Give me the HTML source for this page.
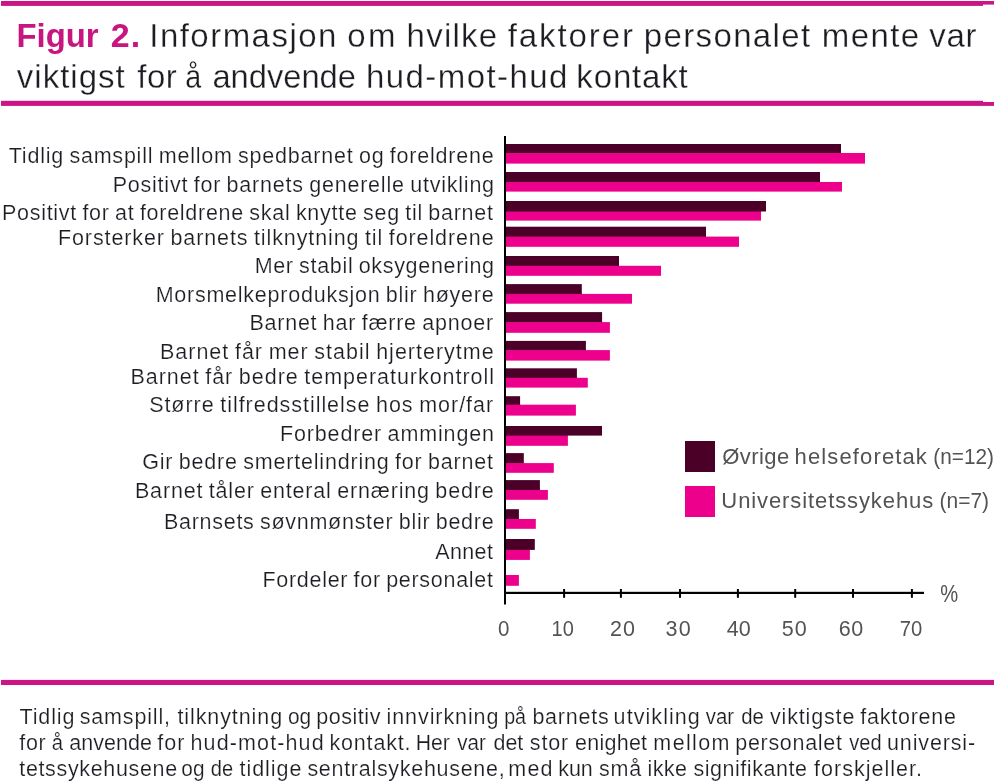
<!DOCTYPE html>
<html lang="no">
<head>
<meta charset="utf-8">
<title>Figur 2</title>
<style>
html,body{margin:0;padding:0;background:#fff;}
body{width:994px;height:782px;overflow:hidden;}
svg{display:block;font-family:"Liberation Sans",sans-serif;}
text{white-space:pre;stroke:#fff;paint-order:fill stroke;}
.title{stroke-width:0.3px;}
.lab{stroke-width:0.2px;}
.cap{stroke-width:0.2px;}
.leg{stroke-width:0.0px;}
.ax{stroke-width:0.0px;}
.b{stroke-width:0;}
.lab{word-spacing:-1.3px;}
</style>
</head>
<body>
<svg width="994" height="782" viewBox="0 0 994 782" role="img" aria-label="Figur 2">
<rect x="0" y="0" width="994" height="782" fill="#ffffff"/>
<rect x="1.0" y="1.0" width="982.0" height="4.9" fill="#cb1585"/>
<rect x="983.0" y="1.0" width="11.0" height="3.6" fill="#cb1585"/>
<rect x="1.0" y="100.8" width="982.0" height="5.1" fill="#cb1585"/>
<rect x="983.0" y="102.0" width="11.0" height="3.9" fill="#cb1585"/>
<rect x="1.0" y="679.9" width="993.0" height="5.1" fill="#cb1585"/>
<g id="bars">
<rect x="506.0" y="153.0" width="359.0" height="10.6" fill="#ec008c"/>
<rect x="506.0" y="152.0" width="335.0" height="1.5" fill="#ec008c"/>
<rect x="506.0" y="144.0" width="335.0" height="9.0" fill="#4a0027"/>
<rect x="506.0" y="182.0" width="336.0" height="9.6" fill="#ec008c"/>
<rect x="506.0" y="181.0" width="314.0" height="1.5" fill="#ec008c"/>
<rect x="506.0" y="172.0" width="314.0" height="10.0" fill="#4a0027"/>
<rect x="506.0" y="211.0" width="255.0" height="9.6" fill="#ec008c"/>
<rect x="506.0" y="201.0" width="260.0" height="10.5" fill="#4a0027"/>
<rect x="506.0" y="236.6" width="233.0" height="10.2" fill="#ec008c"/>
<rect x="506.0" y="235.6" width="200.0" height="1.5" fill="#ec008c"/>
<rect x="506.0" y="226.7" width="200.0" height="9.9" fill="#4a0027"/>
<rect x="506.0" y="265.8" width="155.0" height="10.0" fill="#ec008c"/>
<rect x="506.0" y="264.8" width="113.0" height="1.5" fill="#ec008c"/>
<rect x="506.0" y="256.0" width="113.0" height="9.8" fill="#4a0027"/>
<rect x="506.0" y="293.9" width="126.0" height="9.8" fill="#ec008c"/>
<rect x="506.0" y="292.9" width="75.8" height="1.5" fill="#ec008c"/>
<rect x="506.0" y="284.1" width="75.8" height="9.8" fill="#4a0027"/>
<rect x="506.0" y="322.1" width="103.9" height="10.7" fill="#ec008c"/>
<rect x="506.0" y="321.1" width="96.1" height="1.5" fill="#ec008c"/>
<rect x="506.0" y="312.1" width="96.1" height="10.0" fill="#4a0027"/>
<rect x="506.0" y="350.1" width="103.9" height="10.5" fill="#ec008c"/>
<rect x="506.0" y="349.1" width="79.9" height="1.5" fill="#ec008c"/>
<rect x="506.0" y="340.9" width="79.9" height="9.2" fill="#4a0027"/>
<rect x="506.0" y="377.8" width="81.8" height="9.8" fill="#ec008c"/>
<rect x="506.0" y="376.8" width="70.9" height="1.5" fill="#ec008c"/>
<rect x="506.0" y="368.3" width="70.9" height="9.5" fill="#4a0027"/>
<rect x="506.0" y="404.7" width="69.9" height="10.9" fill="#ec008c"/>
<rect x="506.0" y="403.7" width="14.1" height="1.5" fill="#ec008c"/>
<rect x="506.0" y="396.2" width="14.1" height="8.5" fill="#4a0027"/>
<rect x="506.0" y="435.6" width="61.9" height="10.2" fill="#ec008c"/>
<rect x="506.0" y="434.6" width="61.9" height="1.5" fill="#ec008c"/>
<rect x="506.0" y="426.0" width="96.0" height="9.6" fill="#4a0027"/>
<rect x="506.0" y="463.1" width="47.8" height="9.7" fill="#ec008c"/>
<rect x="506.0" y="462.1" width="17.8" height="1.5" fill="#ec008c"/>
<rect x="506.0" y="453.1" width="17.8" height="10.0" fill="#4a0027"/>
<rect x="506.0" y="490.0" width="41.9" height="9.8" fill="#ec008c"/>
<rect x="506.0" y="489.0" width="33.9" height="1.5" fill="#ec008c"/>
<rect x="506.0" y="480.1" width="33.9" height="9.9" fill="#4a0027"/>
<rect x="506.0" y="519.0" width="29.8" height="9.8" fill="#ec008c"/>
<rect x="506.0" y="518.0" width="12.9" height="1.5" fill="#ec008c"/>
<rect x="506.0" y="509.2" width="12.9" height="9.8" fill="#4a0027"/>
<rect x="506.0" y="549.0" width="23.9" height="10.9" fill="#ec008c"/>
<rect x="506.0" y="539.0" width="28.8" height="10.9" fill="#4a0027"/>
<rect x="506.0" y="575.0" width="12.9" height="10.8" fill="#ec008c"/>
</g>
<g id="axes" fill="#000">
<rect x="504" y="136" width="2" height="468.5"/>
<rect x="504" y="591.8" width="420" height="2.2"/>
<rect x="563.1" y="589" width="2" height="8.8"/>
<rect x="619.9" y="589" width="2" height="8.8"/>
<rect x="679.0" y="589" width="2" height="8.8"/>
<rect x="736.9" y="589" width="2" height="8.8"/>
<rect x="794.2" y="589" width="2" height="8.8"/>
<rect x="852.0" y="589" width="2" height="8.8"/>
<rect x="910.9" y="589" width="2" height="8.8"/>
</g>
<rect x="685.0" y="441.0" width="30.0" height="31.0" fill="#4a0027"/>
<rect x="685.0" y="486.0" width="30.0" height="31.0" fill="#ec008c"/>
<text class="title" y="47.0" font-size="33"><tspan x="16.48" textLength="82.06" lengthAdjust="spacingAndGlyphs" fill="#c8157f" font-weight="700" class="b" font-size="34">Figur</tspan> <tspan x="110.63" textLength="29.51" lengthAdjust="spacing" fill="#c8157f" font-weight="700" class="b" font-size="34">2.</tspan> <tspan x="149.24" textLength="187.13" lengthAdjust="spacing" fill="#1c1c22" font-weight="400">Informasjon</tspan> <tspan x="347.17" textLength="48.34" lengthAdjust="spacing" fill="#1c1c22" font-weight="400">om</tspan> <tspan x="406.62" textLength="90.45" lengthAdjust="spacing" fill="#1c1c22" font-weight="400">hvilke</tspan> <tspan x="507.80" textLength="125.10" lengthAdjust="spacing" fill="#1c1c22" font-weight="400">faktorer</tspan> <tspan x="643.83" textLength="166.30" lengthAdjust="spacing" fill="#1c1c22" font-weight="400">personalet</tspan> <tspan x="821.76" textLength="97.30" lengthAdjust="spacing" fill="#1c1c22" font-weight="400">mente</tspan> <tspan x="929.36" textLength="47.19" lengthAdjust="spacing" fill="#1c1c22" font-weight="400">var</tspan></text>
<text class="title" y="88.0" font-size="33" fill="#1c1c22"><tspan x="16.76" textLength="108.01" lengthAdjust="spacing">viktigst</tspan> <tspan x="137.32" textLength="39.33" lengthAdjust="spacing">for</tspan> <tspan x="185.30" textLength="15.97" lengthAdjust="spacingAndGlyphs">å</tspan> <tspan x="212.40" textLength="143.58" lengthAdjust="spacingAndGlyphs">andvende</tspan> <tspan x="366.07" textLength="201.24" lengthAdjust="spacing">hud-mot-hud</tspan> <tspan x="576.36" textLength="111.42" lengthAdjust="spacing">kontakt</tspan></text>
<text class="lab" x="8.75" y="163.0" font-size="21.5" fill="#1c1c22" textLength="484.90" lengthAdjust="spacing">Tidlig samspill mellom spedbarnet og foreldrene</text>
<text class="lab" x="112.64" y="192.0" font-size="21.5" fill="#1c1c22" textLength="381.45" lengthAdjust="spacing">Positivt for barnets generelle utvikling</text>
<text class="lab" x="1.95" y="220.0" font-size="21.5" fill="#1c1c22" textLength="490.99" lengthAdjust="spacing">Positivt for at foreldrene skal knytte seg til barnet</text>
<text class="lab" x="57.95" y="245.0" font-size="21.5" fill="#1c1c22" textLength="435.70" lengthAdjust="spacing">Forsterker barnets tilknytning til foreldrene</text>
<text class="lab" x="254.63" y="273.0" font-size="21.5" fill="#1c1c22" textLength="239.46" lengthAdjust="spacing">Mer stabil oksygenering</text>
<text class="lab" x="155.64" y="302.0" font-size="21.5" fill="#1c1c22" textLength="338.01" lengthAdjust="spacing">Morsmelkeproduksjon blir høyere</text>
<text class="lab" x="249.40" y="330.0" font-size="21.5" fill="#1c1c22" textLength="243.70" lengthAdjust="spacing">Barnet har færre apnoer</text>
<text class="lab" x="159.95" y="359.0" font-size="21.5" fill="#1c1c22" textLength="333.70" lengthAdjust="spacing">Barnet får mer stabil hjerterytme</text>
<text class="lab" x="130.44" y="384.0" font-size="21.5" fill="#1c1c22" textLength="363.59" lengthAdjust="spacing">Barnet får bedre temperaturkontroll</text>
<text class="lab" x="149.13" y="412.0" font-size="21.5" fill="#1c1c22" textLength="343.97" lengthAdjust="spacing">Større tilfredsstillelse hos mor/far</text>
<text class="lab" x="279.93" y="441.0" font-size="21.5" fill="#1c1c22" textLength="214.10" lengthAdjust="spacing">Forbedrer ammingen</text>
<text class="lab" x="142.25" y="469.0" font-size="21.5" fill="#1c1c22" textLength="350.69" lengthAdjust="spacing">Gir bedre smertelindring for barnet</text>
<text class="lab" x="134.95" y="498.0" font-size="21.5" fill="#1c1c22" textLength="358.70" lengthAdjust="spacing">Barnet tåler enteral ernæring bedre</text>
<text class="lab" x="163.95" y="529.0" font-size="21.5" fill="#1c1c22" textLength="329.70" lengthAdjust="spacing">Barnsets søvnmønster blir bedre</text>
<text class="lab" x="435.21" y="559.0" font-size="21.5" fill="#1c1c22" textLength="57.74" lengthAdjust="spacing">Annet</text>
<text class="lab" x="262.44" y="587.0" font-size="21.5" fill="#1c1c22" textLength="230.51" lengthAdjust="spacing">Fordeler for personalet</text>
<text class="ax" x="498.04" y="636.0" font-size="21.5" fill="#535355" textLength="11.41" lengthAdjust="spacingAndGlyphs">0</text>
<text class="ax" x="551.57" y="636.0" font-size="21.5" fill="#535355" textLength="22.24" lengthAdjust="spacingAndGlyphs">10</text>
<text class="ax" x="610.12" y="636.0" font-size="21.5" fill="#535355" textLength="24.88" lengthAdjust="spacing">20</text>
<text class="ax" x="665.53" y="636.0" font-size="21.5" fill="#535355" textLength="25.21" lengthAdjust="spacing">30</text>
<text class="ax" x="726.71" y="636.0" font-size="21.5" fill="#535355" textLength="24.03" lengthAdjust="spacing">40</text>
<text class="ax" x="781.67" y="636.0" font-size="21.5" fill="#535355" textLength="25.06" lengthAdjust="spacing">50</text>
<text class="ax" x="838.87" y="636.0" font-size="21.5" fill="#535355" textLength="24.29" lengthAdjust="spacing">60</text>
<text class="ax" x="899.65" y="636.0" font-size="21.5" fill="#535355" textLength="22.52" lengthAdjust="spacingAndGlyphs">70</text>
<text class="ax" x="940.27" y="602.0" font-size="23.5" fill="#535355" textLength="17.92" lengthAdjust="spacingAndGlyphs">%</text>
<text class="leg" y="464.0" font-size="22" fill="#535355"><tspan x="722.34" textLength="66.82" lengthAdjust="spacing">Øvrige</tspan> <tspan x="794.62" textLength="132.24" lengthAdjust="spacing">helseforetak</tspan> <tspan x="933.37" textLength="60.51" lengthAdjust="spacingAndGlyphs">(n=12)</tspan></text>
<text class="leg" y="508.0" font-size="22" fill="#535355"><tspan x="721.35" textLength="211.85" lengthAdjust="spacing">Universitetssykehus</tspan> <tspan x="939.59" textLength="49.46" lengthAdjust="spacingAndGlyphs">(n=7)</tspan></text>
<text class="cap" y="724.0" font-size="21.5" fill="#1c1c22"><tspan x="19.50" textLength="54.91" lengthAdjust="spacing">Tidlig</tspan> <tspan x="79.70" textLength="90.30" lengthAdjust="spacing">samspill,</tspan> <tspan x="177.48" textLength="104.64" lengthAdjust="spacing">tilknytning</tspan> <tspan x="287.88" textLength="23.22" lengthAdjust="spacingAndGlyphs">og</tspan> <tspan x="316.22" textLength="64.20" lengthAdjust="spacing">positiv</tspan> <tspan x="386.55" textLength="111.91" lengthAdjust="spacing">innvirkning</tspan> <tspan x="504.17" textLength="21.87" lengthAdjust="spacingAndGlyphs">på</tspan> <tspan x="532.39" textLength="76.24" lengthAdjust="spacing">barnets</tspan> <tspan x="613.61" textLength="86.23" lengthAdjust="spacing">utvikling</tspan> <tspan x="705.74" textLength="28.25" lengthAdjust="spacingAndGlyphs">var</tspan> <tspan x="741.17" textLength="22.67" lengthAdjust="spacingAndGlyphs">de</tspan> <tspan x="769.95" textLength="84.42" lengthAdjust="spacing">viktigste</tspan> <tspan x="860.34" textLength="95.57" lengthAdjust="spacing">faktorene</tspan></text>
<text class="cap" y="750.0" font-size="21.5" fill="#1c1c22"><tspan x="19.34" textLength="26.28" lengthAdjust="spacing">for</tspan> <tspan x="51.80" textLength="11.29" lengthAdjust="spacingAndGlyphs">å</tspan> <tspan x="69.36" textLength="82.55" lengthAdjust="spacing">anvende</tspan> <tspan x="157.34" textLength="27.11" lengthAdjust="spacing">for</tspan> <tspan x="190.51" textLength="133.13" lengthAdjust="spacing">hud-mot-hud</tspan> <tspan x="329.54" textLength="80.95" lengthAdjust="spacing">kontakt.</tspan> <tspan x="415.64" textLength="34.15" lengthAdjust="spacingAndGlyphs">Her</tspan> <tspan x="457.26" textLength="28.69" lengthAdjust="spacingAndGlyphs">var</tspan> <tspan x="493.48" textLength="29.77" lengthAdjust="spacingAndGlyphs">det</tspan> <tspan x="529.83" textLength="38.30" lengthAdjust="spacing">stor</tspan> <tspan x="575.02" textLength="72.07" lengthAdjust="spacing">enighet</tspan> <tspan x="653.36" textLength="76.15" lengthAdjust="spacing">mellom</tspan> <tspan x="735.22" textLength="106.73" lengthAdjust="spacing">personalet</tspan> <tspan x="849.32" textLength="32.34" lengthAdjust="spacingAndGlyphs">ved</tspan> <tspan x="887.03" textLength="88.09" lengthAdjust="spacing">universi-</tspan></text>
<text class="cap" y="776.0" font-size="21.5" fill="#1c1c22"><tspan x="19.25" textLength="157.85" lengthAdjust="spacing">tetssykehusene</tspan> <tspan x="181.35" textLength="23.12" lengthAdjust="spacingAndGlyphs">og</tspan> <tspan x="210.87" textLength="22.37" lengthAdjust="spacingAndGlyphs">de</tspan> <tspan x="239.48" textLength="61.97" lengthAdjust="spacing">tidlige</tspan> <tspan x="307.41" textLength="197.26" lengthAdjust="spacing">sentralsykehusene,</tspan> <tspan x="508.33" textLength="44.13" lengthAdjust="spacing">med</tspan> <tspan x="558.15" textLength="34.65" lengthAdjust="spacingAndGlyphs">kun</tspan> <tspan x="599.00" textLength="42.32" lengthAdjust="spacing">små</tspan> <tspan x="647.55" textLength="39.36" lengthAdjust="spacing">ikke</tspan> <tspan x="693.41" textLength="113.50" lengthAdjust="spacing">signifikante</tspan> <tspan x="814.07" textLength="107.93" lengthAdjust="spacing">forskjeller.</tspan></text>
</svg>
</body>
</html>
